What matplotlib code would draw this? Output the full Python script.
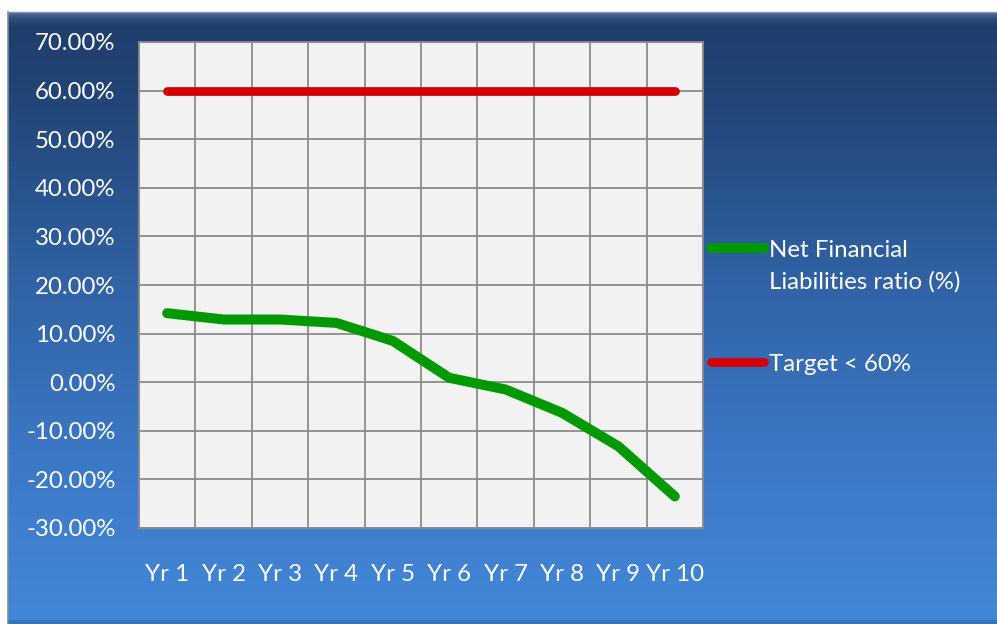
import numpy as np
import matplotlib
matplotlib.use("Agg")
import matplotlib.pyplot as plt
from matplotlib.lines import Line2D

plt.rcParams['font.family'] = ['Lato', 'DejaVu Sans']

# ---- data ----
years = ["Yr 1", "Yr 2", "Yr 3", "Yr 4", "Yr 5", "Yr 6", "Yr 7", "Yr 8", "Yr 9", "Yr 10"]
net_fin_liab = [14.2, 12.9, 12.9, 12.2, 8.5, 0.9, -1.5, -6.3, -13.2, -23.5]
target = [60, 60, 60, 60, 60, 60, 60, 60, 60, 60]
y_ticks = [-30, -20, -10, 0, 10, 20, 30, 40, 50, 60, 70]
series_names = ["Net Financial\nLiabilities ratio (%)", "Target < 60%"]
series_colors = ["#009a00", "#d40000"]

W, H = 997, 624
fig = plt.figure(figsize=(W / 100, H / 100), dpi=100)
fig.patch.set_facecolor("white")

def fx(px):
    return px / W

def fy(py):
    return 1 - py / H

# ---- blue gradient panel ----
bg = fig.add_axes([fx(8), 0, fx(W - 8), fy(12)])
bg.set_axis_off()
rows = 612
t = np.linspace(0, 1, rows)
stops = [0.0, 0.15, 0.45, 0.75, 1.0]
r_s = [31, 34, 49, 60, 67]
g_s = [61, 70, 99, 122, 136]
b_s = [106, 120, 166, 200, 216]
grad = np.zeros((rows, 2, 3))
grad[:, :, 0] = np.interp(t, stops, r_s)[:, None]
grad[:, :, 1] = np.interp(t, stops, g_s)[:, None]
grad[:, :, 2] = np.interp(t, stops, b_s)[:, None]
# bevelled top edge
bevel = np.clip(1 - np.arange(rows) / 14.0, 0, 1) ** 1.5
for c, v in enumerate([110, 140, 185]):
    grad[:, :, c] = grad[:, :, c] * (1 - 0.6 * bevel[:, None]) + v * 0.6 * bevel[:, None]
# darker bottom rim
grad[-4:, :, :] *= 0.85
bg.imshow(grad / 255.0, aspect="auto", extent=[0, 1, 0, 1], interpolation="bilinear")
bg.set_xlim(0, 1)
bg.set_ylim(0, 1)
bg.plot([0, 0], [0, 1], color="#7f8a99", lw=1.2, transform=bg.transAxes, clip_on=False)
bg.plot([0, 1], [1, 1], color="#8a93a0", lw=1.0, transform=bg.transAxes, clip_on=False)

# ---- plot area ----
left, right, top, bottom = 139, 703, 42, 528
ax = fig.add_axes([fx(left), fy(bottom), fx(right - left), fy(top) - fy(bottom)])
ax.set_facecolor("#f2f2f2")
x = np.arange(len(years))
ax.set_xlim(-0.5, len(years) - 0.5)
ax.set_ylim(y_ticks[0], y_ticks[-1])

grid_c = "#8c8c8c"
ax.set_yticks(y_ticks)
ax.set_yticklabels([f"{v:.2f}%" for v in y_ticks])
ax.set_xticks(x)
ax.set_xticklabels(years)
ax.set_xticks(np.arange(-0.5, len(years)), minor=True)
ax.grid(axis="y", which="major", color=grid_c, lw=1.3)
ax.grid(axis="x", which="minor", color=grid_c, lw=1.3)
ax.set_axisbelow(True)
for s in ax.spines.values():
    s.set_color(grid_c)
    s.set_linewidth(1.3)

fs = 17.3
ax.tick_params(axis="both", which="both", length=0, colors="white")
ax.tick_params(axis="y", labelsize=fs, pad=17)
ax.tick_params(axis="x", labelsize=fs, pad=26)

ax.plot(x, net_fin_liab, color=series_colors[0], lw=7.2, solid_capstyle="round",
        solid_joinstyle="round", zorder=3)
ax.plot(x, target, color=series_colors[1], lw=6.3, solid_capstyle="round",
        solid_joinstyle="round", zorder=3)

# ---- legend ----
leg_rows = [(248, series_names[0], series_colors[0], 7.2),
            (362, series_names[1], series_colors[1], 6.3)]
for py, name, col, lw in leg_rows:
    fig.add_artist(Line2D([fx(711), fx(764)], [fy(py), fy(py)], color=col, lw=lw,
                          solid_capstyle="round"))
    fig.text(fx(769), fy(py - 8), name, color="white", fontsize=fs, va="top",
             ha="left", linespacing=1.6)

fig.savefig("out.png", dpi=100)
